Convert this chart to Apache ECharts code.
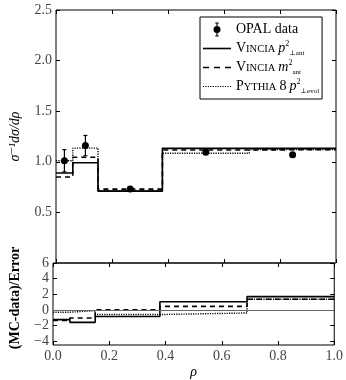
<!DOCTYPE html>
<html>
<head>
<meta charset="utf-8">
<script src="https://cdn.jsdelivr.net/npm/echarts@6/dist/echarts.min.js"></script>
<style>
  html, body { margin: 0; padding: 0; background: #fff; }
  #chart { width: 346px; height: 380px; }
</style>
</head>
<body>
<div id="chart"></div>
<script>
// bin edges in rho
const edges = [0, 0.06, 0.15, 0.38, 0.69, 1.0];

// upper panel: normalised distribution per bin
const vinciaPt = [0.89, 0.99, 0.71, 1.133, 1.133];
const vinciaM = [0.85, 1.045, 0.73, 1.117, 1.12];
const pythia = [1.01, 1.135, 0.715, 1.084, 1.12];

// OPAL data points
const dataX = [0.03, 0.105, 0.265, 0.535, 0.845];
const dataY = [1.01, 1.16, 0.73, 1.094, 1.07];
const dataErr = [0.11, 0.10, 0.015, 0.02, 0.02];

// lower panel: (MC-data)/Error per bin
const devPt = [-1.25, -1.6, -0.85, 1.03, 1.7];
const devM = [-1.35, -1.05, 0.0, 0.45, 1.35];
const devPy = [-0.3, -0.1, -0.6, -0.4, 1.35];

const upperTicks = [0.5, 1.0, 1.5, 2.0, 2.5];
const lowerTicks = [-4, -2, 0, 2, 4, 6];

const serif = "'Liberation Serif', 'DejaVu Serif', serif";
const labelColor = "#444";

const names = {
    data: "OPAL data",
    pt: "Vincia pT",
    m: "Vincia m",
    py: "Pythia pT",
};

function stepData(values) {
    return edges.map((e, i) => [e, values[Math.min(i, values.length - 1)]]);
}

function histSeries(name, values, type, width, grid) {
    return {
        name: name,
        type: "line",
        step: "end",
        xAxisIndex: grid,
        yAxisIndex: grid,
        symbol: "none",
        color: "#000",
        lineStyle: { color: "#000", width: width, type: type },
        data: stepData(values),
        z: 3,
    };
}

// legend icons drawn as filled paths (all sub-paths clockwise)
const dataIcon =
    "path://M5,0h2v24h-2z M3,0h6v1.6h-6z M3,22.4h6v1.6h-6z M0,12a6,6 0 1,1 12,0a6,6 0 1,1 -12,0z";
const solidIcon = "path://M0,0h28v1.6h-28z";
const dashIcon = "path://M0,0h6v1.6h-6z M11,0h6v1.6h-6z M22,0h6v1.6h-6z";
let dotPath = "path://";
for (let x = 0; x < 28; x += 2.4) dotPath += "M" + x.toFixed(1) + ",0h1.2v1.2h-1.2z ";
const dotIcon = dotPath;

const chart = echarts.init(document.getElementById("chart"));

const tickStyle = { show: true, inside: true, length: 4, lineStyle: { color: "#000" } };
const noLine = { show: false, onZero: false };

const options = {
    animation: false,
    backgroundColor: "#fff",
    grid: [
        { left: 49, right: 10, top: 10, height: 253, show: true, borderColor: "#000", borderWidth: 1 },
        { left: 49, right: 10, top: 263, height: 84, show: true, borderColor: "#000", borderWidth: 1 },
    ],
    xAxis: [
        {
            gridIndex: 0, type: "value", min: 0, max: 1, interval: 0.2,
            axisLine: noLine, axisTick: tickStyle,
            axisLabel: { show: false }, splitLine: { show: false },
        },
        {
            gridIndex: 1, type: "value", min: 0, max: 1, interval: 0.2,
            axisLine: noLine, axisTick: tickStyle,
            axisLabel: {
                color: labelColor, fontFamily: serif, fontSize: 14, margin: 4,
                formatter: (v) => v.toFixed(1),
            },
            splitLine: { show: false },
            name: "ρ", nameLocation: "middle", nameGap: 20,
            nameTextStyle: { fontFamily: serif, fontStyle: "italic", fontSize: 14, color: "#000" },
        },
        {
            gridIndex: 0, type: "value", min: 0, max: 1, interval: 0.2, position: "top",
            axisLine: noLine, axisTick: tickStyle,
            axisLabel: { show: false }, splitLine: { show: false },
        },
        {
            gridIndex: 1, type: "value", min: 0, max: 1, interval: 0.2, position: "top",
            axisLine: noLine, axisTick: tickStyle,
            axisLabel: { show: false }, splitLine: { show: false },
        },
    ],
    yAxis: [
        {
            gridIndex: 0, type: "value", min: 0, max: 2.5,
            axisLine: noLine,
            axisTick: Object.assign({}, tickStyle, { customValues: upperTicks }),
            axisLabel: {
                color: labelColor, fontFamily: serif, fontSize: 14, margin: 4,
                customValues: upperTicks,
                formatter: (v) => v.toFixed(1),
            },
            splitLine: { show: false },
            name: "σ⁻¹dσ/dρ", nameLocation: "middle", nameGap: 34,
            nameTextStyle: { fontFamily: serif, fontStyle: "italic", fontSize: 14, color: "#000" },
        },
        {
            gridIndex: 1, type: "value", min: -4.5, max: 6,
            axisLine: noLine,
            axisTick: Object.assign({}, tickStyle, { customValues: lowerTicks }),
            axisLabel: {
                color: labelColor, fontFamily: serif, fontSize: 14, margin: 4,
                customValues: lowerTicks,
                formatter: (v) => String(v).replace("-", "−"),
            },
            splitLine: { show: false },
            name: "(MC-data)/Error", nameLocation: "middle", nameGap: 31,
            nameTextStyle: { fontFamily: serif, fontWeight: "bold", fontSize: 14, color: "#000", padding: [0, 0, 0, 12] },
        },
        {
            gridIndex: 0, type: "value", min: 0, max: 2.5, position: "right",
            axisLine: noLine,
            axisTick: Object.assign({}, tickStyle, { customValues: upperTicks }),
            axisLabel: { show: false }, splitLine: { show: false },
        },
        {
            gridIndex: 1, type: "value", min: -4.5, max: 6, position: "right",
            axisLine: noLine,
            axisTick: Object.assign({}, tickStyle, { customValues: lowerTicks }),
            axisLabel: { show: false }, splitLine: { show: false },
        },
    ],
    legend: {
        orient: "vertical",
        left: 200,
        top: 17,
        padding: [4, 3, 4, 3],
        itemGap: 2,
        itemWidth: 28,
        itemHeight: 14,
        borderColor: "#000",
        borderWidth: 1,
        backgroundColor: "#fff",
        itemStyle: { color: "#000", borderWidth: 0 },
        data: [
            { name: names.data, icon: dataIcon },
            { name: names.pt, icon: solidIcon },
            { name: names.m, icon: dashIcon },
            { name: names.py, icon: dotIcon },
        ],
        formatter: function (name) {
            if (name === names.data) return "{n|OPAL data}";
            if (name === names.pt) return "{n|V}{sc|INCIA} {it|p}{sup|2}{sub|⊥ant}";
            if (name === names.m) return "{n|V}{sc|INCIA} {it|m}{sup|2}{sub|ant}";
            return "{n|P}{sc|YTHIA} {n|8} {it|p}{sup|2}{sub|⊥evol}";
        },
        textStyle: {
            fontFamily: serif,
            color: "#000",
            lineHeight: 17,
            rich: {
                n: { fontFamily: serif, fontSize: 14, color: "#000", lineHeight: 17 },
                sc: { fontFamily: serif, fontSize: 10.5, color: "#000", lineHeight: 17, verticalAlign: "bottom", padding: [0, 0, 2, 0] },
                it: { fontFamily: serif, fontStyle: "italic", fontSize: 14, color: "#000", lineHeight: 17 },
                sup: { fontFamily: serif, fontSize: 8, color: "#000", lineHeight: 10, verticalAlign: "top" },
                sub: { fontFamily: serif, fontSize: 7, color: "#000", lineHeight: 8, verticalAlign: "bottom" },
            },
        },
    },
    series: [
        histSeries(names.pt, vinciaPt, "solid", 1.6, 0),
        histSeries(names.m, vinciaM, [5, 4], 1.6, 0),
        histSeries(names.py, pythia, [1.2, 1.2], 1.4, 0),
        {
            name: names.data,
            type: "custom",
            xAxisIndex: 0,
            yAxisIndex: 0,
            color: "#000",
            z: 5,
            data: dataX.map((x, i) => [x, dataY[i], dataErr[i]]),
            renderItem: function (params, api) {
                const c = api.coord([api.value(0), api.value(1)]);
                const top = api.coord([api.value(0), api.value(1) + api.value(2)]);
                const bot = api.coord([api.value(0), api.value(1) - api.value(2)]);
                const ls = { stroke: "#000", lineWidth: 1.2 };
                return {
                    type: "group",
                    children: [
                        { type: "line", shape: { x1: c[0], y1: top[1], x2: c[0], y2: bot[1] }, style: ls },
                        { type: "line", shape: { x1: c[0] - 2, y1: top[1], x2: c[0] + 2, y2: top[1] }, style: ls },
                        { type: "line", shape: { x1: c[0] - 2, y1: bot[1], x2: c[0] + 2, y2: bot[1] }, style: ls },
                        { type: "circle", shape: { cx: c[0], cy: c[1], r: 3.5 }, style: { fill: "#000" } },
                    ],
                };
            },
        },
        Object.assign(histSeries(names.pt, devPt, "solid", 1.6, 1), {
            markLine: {
                silent: true,
                symbol: "none",
                label: { show: false },
                lineStyle: { color: "#666", width: 1, type: "solid" },
                data: [{ yAxis: 0 }],
            },
        }),
        histSeries(names.m, devM, [5, 4], 1.6, 1),
        histSeries(names.py, devPy, [1.2, 1.2], 1.4, 1),
    ],
};

chart.setOption(options);
</script>
</body>
</html>
